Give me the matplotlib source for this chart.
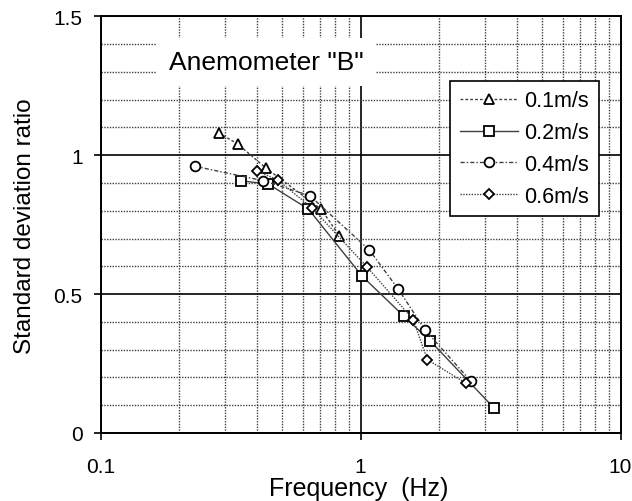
import matplotlib
matplotlib.use("Agg")
import matplotlib.pyplot as plt
from matplotlib.ticker import FixedLocator, NullFormatter

plt.rcParams['font.family'] = ['Liberation Sans', 'DejaVu Sans']

# wind speed series: frequency (Hz) vs standard deviation ratio
labels = ["0.1m/s", "0.2m/s", "0.4m/s", "0.6m/s"]

f_01 = [0.285, 0.337, 0.433, 0.705, 0.828]
r_01 = [1.08, 1.04, 0.953, 0.806, 0.71]

f_02 = [0.346, 0.442, 0.63, 1.015, 1.469, 1.85, 3.26]
r_02 = [0.908, 0.896, 0.806, 0.564, 0.42, 0.332, 0.09]

f_04 = [0.231, 0.423, 0.638, 1.08, 1.396, 1.77, 2.66]
r_04 = [0.96, 0.908, 0.854, 0.659, 0.518, 0.371, 0.186]

f_06 = [0.398, 0.48, 0.652, 1.062, 1.595, 1.806, 2.536]
r_06 = [0.944, 0.911, 0.809, 0.596, 0.408, 0.264, 0.18]

yticks = [0, 0.5, 1, 1.5]
ytick_labels = ["0", "0.5", "1", "1.5"]
xticks = [0.1, 1, 10]
xtick_labels = ["0.1", "1", "10"]

fig = plt.figure(figsize=(6.32, 5.02), dpi=100)
ax = fig.add_axes([100.7 / 632, 1 - 434 / 502, 519.8 / 632, 416.7 / 502])

ax.set_xscale('log')
ax.set_xlim(0.1, 10)
ax.set_ylim(0, 1.5)

# grid: solid at decades / every 0.5, dotted in between
ax.xaxis.set_major_locator(FixedLocator(xticks))
ax.xaxis.set_minor_locator(FixedLocator([m * d for d in (0.1, 1) for m in range(2, 10)]))
ax.yaxis.set_major_locator(FixedLocator(yticks))
ax.yaxis.set_minor_locator(FixedLocator([i / 10 for i in range(1, 15) if i % 5]))
ax.xaxis.set_minor_formatter(NullFormatter())
ax.set_xticklabels(xtick_labels)
ax.set_yticklabels(ytick_labels)

ax.grid(which='major', color='black', linestyle='-', linewidth=1.2)
ax.grid(which='minor', color='0.25', linestyle=(0, (1, 1)), linewidth=1.0)
ax.set_axisbelow(True)

ax.tick_params(which='major', direction='out', length=5, width=1.2, labelsize=15)
ax.tick_params(which='minor', length=0)
ax.tick_params(axis='x', pad=12.5)
ax.tick_params(axis='y', pad=8)
for s in ax.spines.values():
    s.set_linewidth(1.4)

mk = dict(markerfacecolor='white', markeredgecolor='black', markeredgewidth=1.3,
          color='0.25', linewidth=1.0)
ax.plot(f_01, r_01, marker='^', markersize=7, linestyle=(0, (2, 1.5)), label=labels[0], **mk)
ax.plot(f_02, r_02, marker='s', markersize=7, linestyle='-', label=labels[1], **mk)
ax.plot(f_04, r_04, marker='o', markersize=7, linestyle=(0, (3, 1.5, 1, 1.5)), label=labels[2], **mk)
ax.plot(f_06, r_06, marker='D', markersize=5, linestyle=(0, (1, 1)), label=labels[3], **mk)

ax.text(0.319, 0.890, 'Anemometer "B"', transform=ax.transAxes, fontsize=19,
        ha='center', va='center',
        bbox=dict(boxstyle='square,pad=0.45', facecolor='white', edgecolor='none'))

leg = ax.legend(loc='upper left', bbox_to_anchor=(0.672, 0.8455), fontsize=15.5,
                frameon=True, fancybox=False, edgecolor='black', framealpha=1,
                borderaxespad=0, borderpad=0.45, handlelength=2.7,
                handletextpad=0.3, labelspacing=0.5)
leg.get_frame().set_linewidth(1.2)

fig.text(0.5 * (262 + 455) / 632, 1 - 489 / 502, "Frequency  (Hz)", fontsize=18,
         ha='center', va='center')
fig.text(25 / 632, 1 - 226 / 502, "Standard deviation ratio", fontsize=17.5,
         rotation=90, ha='center', va='center')

fig.savefig("out.png", dpi=100)
